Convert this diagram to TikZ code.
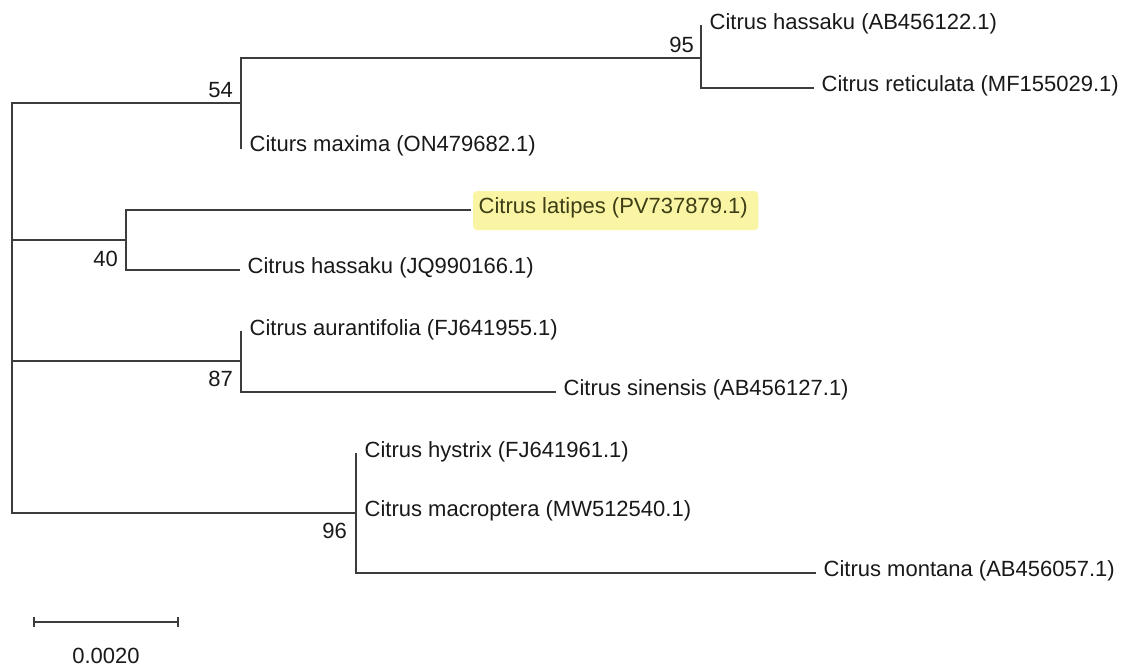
\documentclass[tikz,border=0pt]{standalone}
\usepackage{fontspec}
\setmainfont{Liberation Sans}
\usetikzlibrary{backgrounds}
\definecolor{branch}{RGB}{60,60,60}
\definecolor{txt}{RGB}{25,25,25}
\definecolor{hlfill}{RGB}{249,245,165}
\definecolor{hltxt}{RGB}{62,62,22}
\begin{document}
\begin{tikzpicture}[x=1pt,y=-1pt,
  every node/.style={font=\fontsize{22pt}{26pt}\selectfont, text=txt},
  edge/.style={draw=branch, line width=1.5pt, line cap=rect},
  leaf/.style={anchor=west, inner xsep=8.5pt, inner ysep=0pt,
               text height=0.716em, text depth=0pt},
  boot/.style={anchor=base east, inner sep=0pt},
  hilite/.style={fill=hlfill, rounded corners=4pt}]
\useasboundingbox (0,0) rectangle (1131,666);

% internal nodes of the tree
\coordinate (root) at (12,308);
\coordinate (n54) at (241,103);
\coordinate (n95) at (701,58);
\coordinate (n40) at (126,240);
\coordinate (n87) at (241,361);
\coordinate (n96) at (356,513);

% taxa
\node[leaf] (hasA) at (701,26)  {Citrus hassaku (AB456122.1)};
\node[leaf] (ret)  at (813,88)  {Citrus reticulata (MF155029.1)};
\node[leaf] (max)  at (241,148) {Citurs maxima (ON479682.1)};
\node[leaf, text=hltxt] (lat) at (470,210) {Citrus latipes (PV737879.1)};
\node[leaf] (hasJ) at (239,270) {Citrus hassaku (JQ990166.1)};
\node[leaf] (aur)  at (241,332) {Citrus aurantifolia (FJ641955.1)};
\node[leaf] (sin)  at (555,392) {Citrus sinensis (AB456127.1)};
\node[leaf] (hys)  at (356,454) {Citrus hystrix (FJ641961.1)};
\node[leaf] (mac)  at (356,513) {Citrus macroptera (MW512540.1)};
\node[leaf] (mon)  at (815,573) {Citrus montana (AB456057.1)};

% highlight behind the new sequence
\begin{scope}[on background layer]
  \path[hilite] ([xshift=3pt,yshift=19pt]lat.west) rectangle ([xshift=2pt,yshift=-20pt]lat.east);
\end{scope}

% branches
\draw[edge] (root) |- (n54);
\draw[edge] (root) |- (n40);
\draw[edge] (root) |- (n87);
\draw[edge] (root) |- (n96);
\draw[edge] (n54) |- (n95);
\draw[edge] (n54) |- (max.west);
\draw[edge] (n95) |- (hasA.west);
\draw[edge] (n95) |- (ret.west);
\draw[edge] (n40) |- (lat.west);
\draw[edge] (n40) |- (hasJ.west);
\draw[edge] (n87) |- (aur.west);
\draw[edge] (n87) |- (sin.west);
\draw[edge] (n96) |- (hys.west);
\draw[edge] (n96) |- (mac.west);
\draw[edge] (n96) |- (mon.west);

% bootstrap values
\node[boot] (b54) at (233,98)  {54};
\node[boot] (b95) at (694,53)  {95};
\node[boot] (b40) at (118,266) {40};
\node[boot] (b87) at (233,386) {87};
\node[boot] (b96) at (347,538) {96};

% scale bar
\coordinate (s0) at (34,622);
\coordinate (s1) at (178,622);
\draw[edge, line cap=butt] (s0) -- (s1);
\draw[edge, line cap=butt] ([yshift=-5pt]s0) -- ([yshift=5pt]s0);
\draw[edge, line cap=butt] ([yshift=-5pt]s1) -- ([yshift=5pt]s1);
\node[anchor=base, inner sep=0pt] (scale) at (106,663) {0.0020};
\end{tikzpicture}
\end{document}
